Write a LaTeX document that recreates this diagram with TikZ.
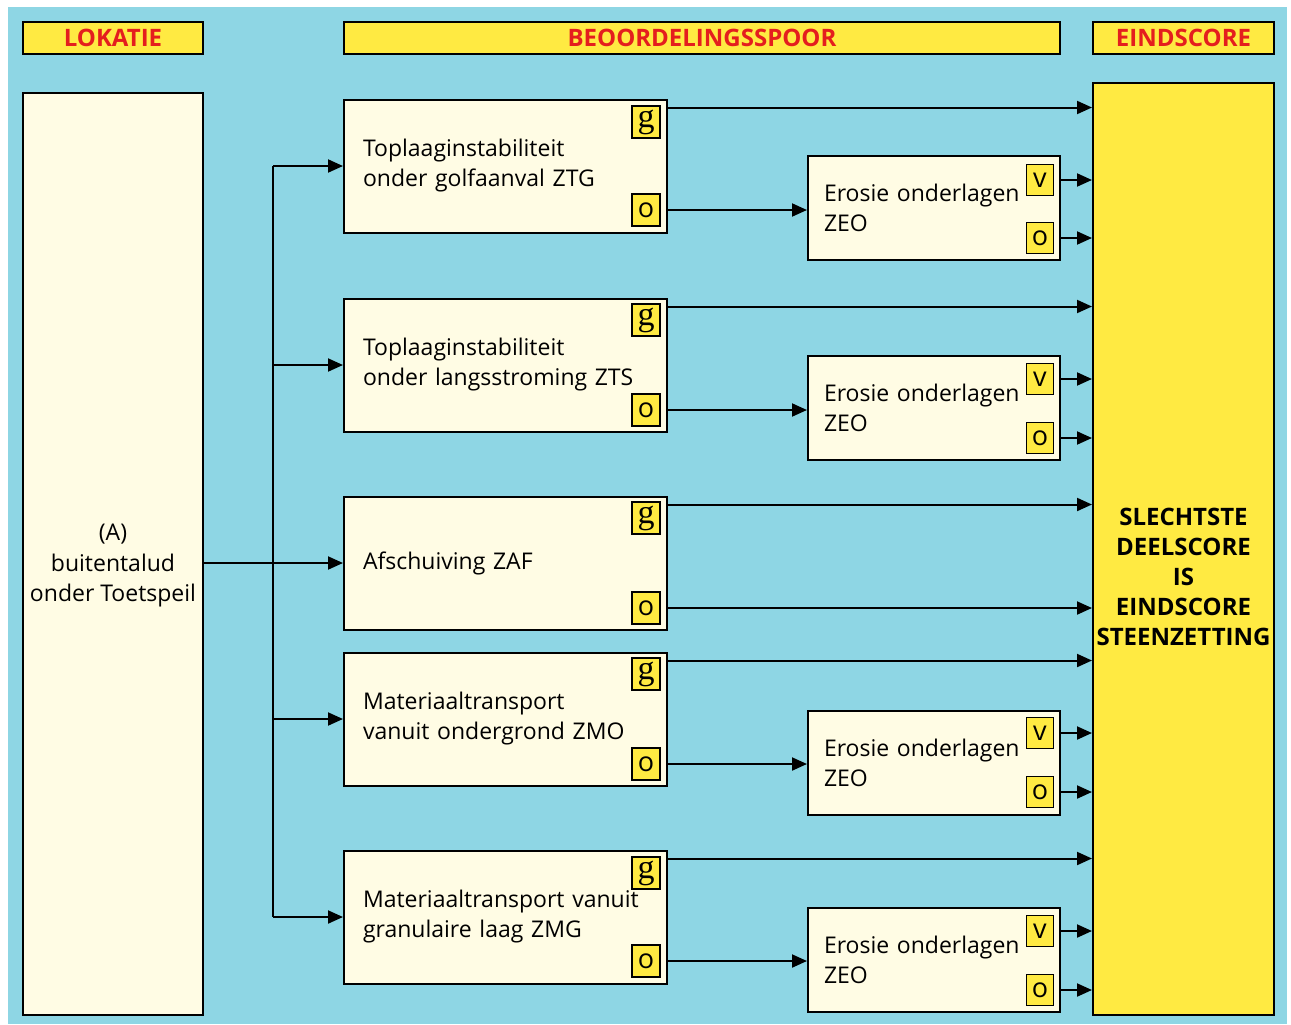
\documentclass[tikz,border=0pt]{standalone}
\usepackage{fontspec}
\setmainfont{Open Sans}
\newfontfamily\gfont{Liberation Serif}
\usetikzlibrary{arrows.meta,positioning}
\definecolor{bgcyan}{RGB}{142,214,228}
\definecolor{hdryellow}{RGB}{255,234,66}
\definecolor{boxcream}{RGB}{255,252,228}
\definecolor{hdrred}{RGB}{228,30,30}
\tikzstyle{header} = [rectangle, draw=black, line width=1pt, fill=hdryellow, text=hdrred, font=\bfseries\fontsize{12}{14}\selectfont, minimum height=16pt, inner sep=0pt]
\tikzstyle{mech} = [rectangle, draw=black, line width=1pt, fill=boxcream, minimum width=161.5pt, minimum height=66.5pt, text width=142.5pt, inner xsep=9.5pt, align=left, font=\fontsize{11.5}{15}\selectfont]
\tikzstyle{ero} = [rectangle, draw=black, line width=1pt, fill=boxcream, minimum width=126pt, minimum height=52pt, text width=110pt, inner xsep=8pt, align=left, font=\fontsize{11.5}{15}\selectfont]
\tikzstyle{tag} = [rectangle, draw=black, line width=0.9pt, fill=hdryellow, minimum width=14pt, minimum height=16pt, inner sep=0pt, font=\fontsize{13.5}{13.5}\selectfont]
\tikzstyle{na} = [text centered, align=center]
\tikzstyle{arrow} = [line width=1pt, -{Triangle[length=7.5pt,width=6.5pt]}]
\tikzstyle{line} = [line width=1pt, -]

\begin{document}
\begin{tikzpicture}[x=0.5pt,y=-0.5pt]
\fill[white] (0,0) rectangle (1291,1024);
\fill[bgcyan] (8,7) rectangle (1287,1024);
\useasboundingbox (0,0) rectangle (1291,1024);
%% headers
\node (hlok) at (113,38) [header, minimum width=90pt] {LOKATIE};
\node (hbeo) at (702,38) [header, minimum width=358pt] {BEOORDELINGSSPOOR};
\node (hein) at (1183.5,38) [header, minimum width=90.5pt] {EINDSCORE};
%% location and final score
\node (lok) at (113,554) [rectangle, draw=black, line width=1pt, fill=boxcream, minimum width=90pt, minimum height=461pt] {};
\node (loktext) at (113,566) [na, font=\fontsize{11.5}{15.25}\selectfont] {(A)\\buitentalud\\onder Toetspeil};
\node (eind) at (1183.5,549) [rectangle, draw=black, line width=1pt, fill=hdryellow, minimum width=90.5pt, minimum height=466pt] {};
\node (eindtext) at (1183.5,577) [na, font=\bfseries\fontsize{12}{15}\selectfont] {SLECHTSTE\\DEELSCORE\\IS\\EINDSCORE\\STEENZETTING};
%% failure mechanisms
\node (ztg) at (505.5,166) [mech] {Toplaaginstabiliteit\\onder golfaanval ZTG};
\node (zts) at (505.5,365) [mech] {Toplaaginstabiliteit\\onder langsstroming ZTS};
\node (zaf) at (505.5,563) [mech] {Afschuiving ZAF};
\node (zmo) at (505.5,719) [mech] {Materiaaltransport\\vanuit ondergrond ZMO};
\node (zmg) at (505.5,917) [mech] {Materiaaltransport vanuit\\granulaire laag ZMG};
\node (ztgg) at (646,122) [tag] {\gfont\fontsize{17}{17}\selectfont g};
\node (ztgo) at (646,210) [tag] {o};
\node (ztsg) at (646,320) [tag] {\gfont\fontsize{17}{17}\selectfont g};
\node (ztso) at (646,410) [tag] {o};
\node (zafg) at (646,518) [tag] {\gfont\fontsize{17}{17}\selectfont g};
\node (zafo) at (646,608) [tag] {o};
\node (zmog) at (646,674) [tag] {\gfont\fontsize{17}{17}\selectfont g};
\node (zmoo) at (646,764) [tag] {o};
\node (zmgg) at (646,873) [tag] {\gfont\fontsize{17}{17}\selectfont g};
\node (zmgo) at (646,961) [tag] {o};
%% erosion of sublayers
\node (zeo1) at (934,208) [ero] {Erosie onderlagen\\ZEO};
\node (zeo2) at (934,408) [ero] {Erosie onderlagen\\ZEO};
\node (zeo3) at (934,763) [ero] {Erosie onderlagen\\ZEO};
\node (zeo4) at (934,960) [ero] {Erosie onderlagen\\ZEO};
\node (zeo1v) at (1040,180) [tag, minimum width=13.5pt, minimum height=15.5pt] {v};
\node (zeo1o) at (1040,238) [tag, minimum width=13.5pt, minimum height=15.5pt] {o};
\node (zeo2v) at (1040,379) [tag, minimum width=13.5pt, minimum height=15.5pt] {v};
\node (zeo2o) at (1040,438) [tag, minimum width=13.5pt, minimum height=15.5pt] {o};
\node (zeo3v) at (1040,733) [tag, minimum width=13.5pt, minimum height=15.5pt] {v};
\node (zeo3o) at (1040,792) [tag, minimum width=13.5pt, minimum height=15.5pt] {o};
\node (zeo4v) at (1040,931) [tag, minimum width=13.5pt, minimum height=15.5pt] {v};
\node (zeo4o) at (1040,990) [tag, minimum width=13.5pt, minimum height=15.5pt] {o};
%% branching from location
\coordinate (bus) at (273,0);
\draw [line] (bus |- ztg) -- (bus |- zmg);
\draw [arrow] (lok.east |- zaf) -- (zaf.west);
\draw [arrow] (bus |- ztg) -- (ztg.west);
\draw [arrow] (bus |- zts) -- (zts.west);
\draw [arrow] (bus |- zmo) -- (zmo.west);
\draw [arrow] (bus |- zmg) -- (zmg.west);
%% g outputs straight to final score
\coordinate (g1) at ([yshift=-4.5pt]ztg.north east);
\coordinate (g2) at ([yshift=-4.5pt]zts.north east);
\coordinate (g3) at ([yshift=-4.5pt]zaf.north east);
\coordinate (g4) at ([yshift=-4.5pt]zmo.north east);
\coordinate (g5) at ([yshift=-4.5pt]zmg.north east);
\draw [arrow] (g1) -- (g1 -| eind.west);
\draw [arrow] (g2) -- (g2 -| eind.west);
\draw [arrow] (g3) -- (g3 -| eind.west);
\draw [arrow] (g4) -- (g4 -| eind.west);
\draw [arrow] (g5) -- (g5 -| eind.west);
%% o outputs
\draw [arrow] (ztg.east |- ztgo) -- (zeo1.west |- ztgo);
\draw [arrow] (zts.east |- ztso) -- (zeo2.west |- ztso);
\draw [arrow] (zaf.east |- zafo) -- (eind.west |- zafo);
\draw [arrow] (zmo.east |- zmoo) -- (zeo3.west |- zmoo);
\draw [arrow] (zmg.east |- zmgo) -- (zeo4.west |- zmgo);
%% erosion outputs
\draw [arrow] (zeo1.east |- zeo1v) -- (eind.west |- zeo1v);
\draw [arrow] (zeo1.east |- zeo1o) -- (eind.west |- zeo1o);
\draw [arrow] (zeo2.east |- zeo2v) -- (eind.west |- zeo2v);
\draw [arrow] (zeo2.east |- zeo2o) -- (eind.west |- zeo2o);
\draw [arrow] (zeo3.east |- zeo3v) -- (eind.west |- zeo3v);
\draw [arrow] (zeo3.east |- zeo3o) -- (eind.west |- zeo3o);
\draw [arrow] (zeo4.east |- zeo4v) -- (eind.west |- zeo4v);
\draw [arrow] (zeo4.east |- zeo4o) -- (eind.west |- zeo4o);
%
\end{tikzpicture}
\end{document}
